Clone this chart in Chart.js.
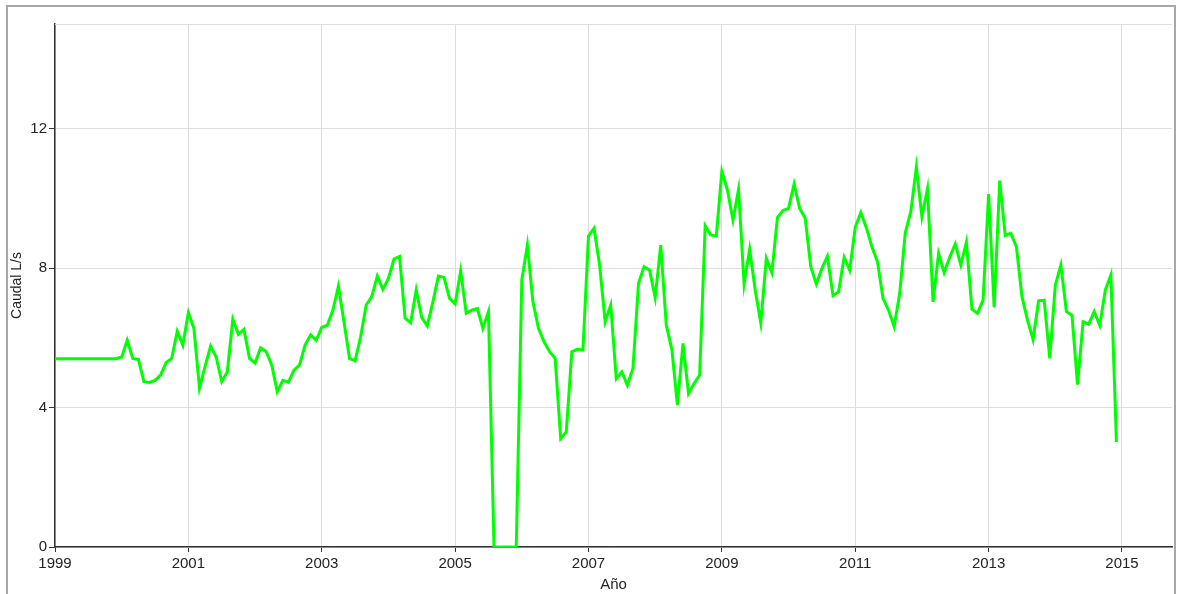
<!DOCTYPE html>
<html>
<head>
<meta charset="utf-8">
<script src="https://cdn.jsdelivr.net/npm/chart.js@4.4.1/dist/chart.umd.min.js"></script>
<style>
  html, body { margin: 0; padding: 0; background: #fff; }
  canvas { display: block; }
</style>
</head>
<body>
<canvas id="chart" width="1180" height="594"></canvas>
<script>
// ---- data (monthly, Jan 1999 .. Dec 2014) ----
const startYear = 1999;
const caudal = [
  5.4, 5.4, 5.4, 5.4, 5.4, 5.4, 5.4, 5.4, 5.4, 5.4, 5.4, 5.4,          // 1999
  5.45, 5.93, 5.41, 5.38, 4.74, 4.72, 4.78, 4.93, 5.29, 5.41, 6.19, 5.79, // 2000
  6.72, 6.27, 4.56, 5.17, 5.76, 5.45, 4.74, 5.02, 6.53, 6.10, 6.24, 5.41, // 2001
  5.28, 5.71, 5.60, 5.22, 4.45, 4.78, 4.72, 5.07, 5.22, 5.79, 6.08, 5.93, // 2002
  6.30, 6.36, 6.79, 7.48, 6.46, 5.41, 5.34, 6.03, 6.94, 7.18, 7.77, 7.39, // 2003
  7.70, 8.26, 8.33, 6.56, 6.43, 7.37, 6.58, 6.34, 7.03, 7.77, 7.73, 7.13, // 2004
  6.97, 7.92, 6.70, 6.79, 6.84, 6.27, 6.75, 0, 0, 0, 0, 0,               // 2005
  7.66, 8.66, 7.03, 6.27, 5.89, 5.60, 5.41, 3.11, 3.30, 5.60, 5.67, 5.65, // 2006
  8.92, 9.14, 8.09, 6.46, 6.94, 4.83, 5.02, 4.64, 5.12, 7.56, 8.04, 7.94, // 2007
  7.15, 8.66, 6.36, 5.67, 4.07, 5.84, 4.40, 4.69, 4.93, 9.21, 8.95, 8.92, // 2008
  10.77, 10.24, 9.38, 10.26, 7.54, 8.54, 7.37, 6.43, 8.28, 7.87, 9.45, 9.65, // 2009
  9.71, 10.41, 9.71, 9.43, 8.04, 7.54, 7.99, 8.34, 7.21, 7.32, 8.31, 7.94, // 2010
  9.17, 9.59, 9.16, 8.61, 8.18, 7.13, 6.79, 6.32, 7.27, 9.01, 9.62, 10.89, // 2011
  9.47, 10.27, 7.03, 8.42, 7.87, 8.31, 8.69, 8.09, 8.74, 6.82, 6.70, 7.08, // 2012
  10.12, 6.87, 10.51, 8.93, 9.00, 8.61, 7.18, 6.51, 5.95, 7.06, 7.08, 5.41, // 2013
  7.51, 8.09, 6.75, 6.65, 4.66, 6.46, 6.39, 6.75, 6.36, 7.37, 7.80, 3.01  // 2014
];
const xTicks = [1999, 2001, 2003, 2005, 2007, 2009, 2011, 2013, 2015];
const yTicks = [0, 4, 8, 12];

const FONT = "'Liberation Sans', Arial, sans-serif";
const points = caudal.map((v, i) => ({ x: startYear + i / 12, y: v }));

// frame round the chart + top edge of the plot
const framePlugin = {
  id: "frame",
  beforeDraw(chart) {
    const c = chart.ctx;
    c.save();
    c.fillStyle = "#fff";
    c.fillRect(0, 0, chart.width, chart.height);
    c.strokeStyle = "#a8a8a8";
    c.lineWidth = 2;
    c.strokeRect(7, 6, 1168, 620);
    c.restore();
  },
  beforeDatasetsDraw(chart) {
    const { left, right, top } = chart.chartArea;
    const c = chart.ctx;
    c.save();
    c.strokeStyle = "#dddddd";
    c.lineWidth = 1;
    c.beginPath();
    c.moveTo(left, top + 0.5);
    c.lineTo(right, top + 0.5);
    c.stroke();
    c.restore();
  }
};

const ctx = document.getElementById("chart").getContext("2d");
new Chart(ctx, {
  type: "line",
  data: {
    datasets: [{
      data: points,
      borderColor: "#00ff00",
      borderWidth: 3,
      pointRadius: 0,
      tension: 0,
      fill: false
    }]
  },
  options: {
    responsive: false,
    animation: false,
    layout: { padding: { top: 24, right: 8, left: 0, bottom: 0 } },
    plugins: { legend: { display: false }, tooltip: { enabled: false } },
    scales: {
      x: {
        type: "linear",
        min: 1999,
        max: 2015.75,
        afterBuildTicks: s => { s.ticks = xTicks.map(v => ({ value: v })); },
        afterFit: s => { s.height = 47; },
        ticks: {
          callback: v => String(v),
          color: "#222",
          font: { family: FONT, size: 15 },
          padding: 3,
          maxRotation: 0,
          autoSkip: false
        },
        grid: { color: "#dddddd", tickColor: "#333", tickLength: 5 },
        border: { color: "#333", width: 1.5 },
        title: {
          display: true,
          text: "Año",
          color: "#222",
          font: { family: FONT, size: 15 },
          padding: { top: 1, bottom: 0 }
        }
      },
      y: {
        min: 0,
        max: 15,
        afterBuildTicks: s => { s.ticks = yTicks.map(v => ({ value: v })); },
        afterFit: s => { s.width = 55; },
        ticks: {
          color: "#222",
          font: { family: FONT, size: 15 },
          padding: 2
        },
        grid: { color: "#dddddd", tickColor: "#333", tickLength: 6 },
        border: { color: "#333", width: 1.5 },
        title: {
          display: true,
          text: "Caudal L/s",
          color: "#222",
          font: { family: FONT, size: 14 },
          padding: { top: 9, bottom: 0 }
        }
      }
    }
  },
  plugins: [framePlugin]
});
</script>
</body>
</html>
